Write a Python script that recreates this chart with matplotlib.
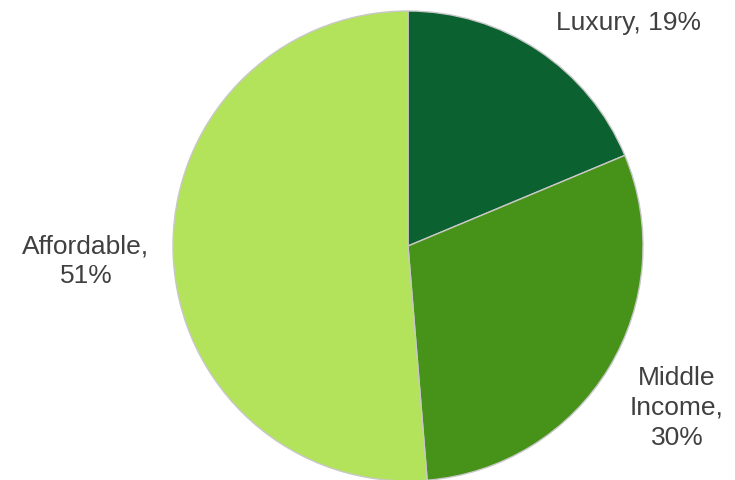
import matplotlib.pyplot as plt

segments = ['Luxury', 'Middle Income', 'Affordable']
shares = [18.7, 30.0, 51.3]
colors = ['#0b6130', '#479219', '#b3e35a']

W, H = 735, 481
fig = plt.figure(figsize=(W / 100, H / 100), dpi=100)
plt.rcParams['font.family'] = ['Liberation Sans', 'DejaVu Sans']

# pie centre (408, 247) px, radius 235 px
cx, cy, r = 408, 247, 235
ax = fig.add_axes([(cx - r) / W, (H - cy - r) / H, 2 * r / W, 2 * r / H])
ax.pie(shares, colors=colors, startangle=90, counterclock=False, radius=1,
       wedgeprops=dict(edgecolor='#c8c8c8', linewidth=1))
ax.set_xlim(-1, 1)
ax.set_ylim(-1, 1)
ax.axis('off')

# label positions in pixels
label_pos = [(629, 23), (677, 408), (86, 261)]
label_txt = ['%s, %d%%' % (segments[0], round(shares[0])),
             'Middle\nIncome,\n%d%%' % round(shares[1]),
             '%s,\n%d%%' % (segments[2], round(shares[2]))]
for (px, py), t in zip(label_pos, label_txt):
    fig.text(px / W, 1 - py / H, t, ha='center', va='center', fontsize=19,
             color='#404040', linespacing=1.3)

plt.savefig('out.png', dpi=100)
